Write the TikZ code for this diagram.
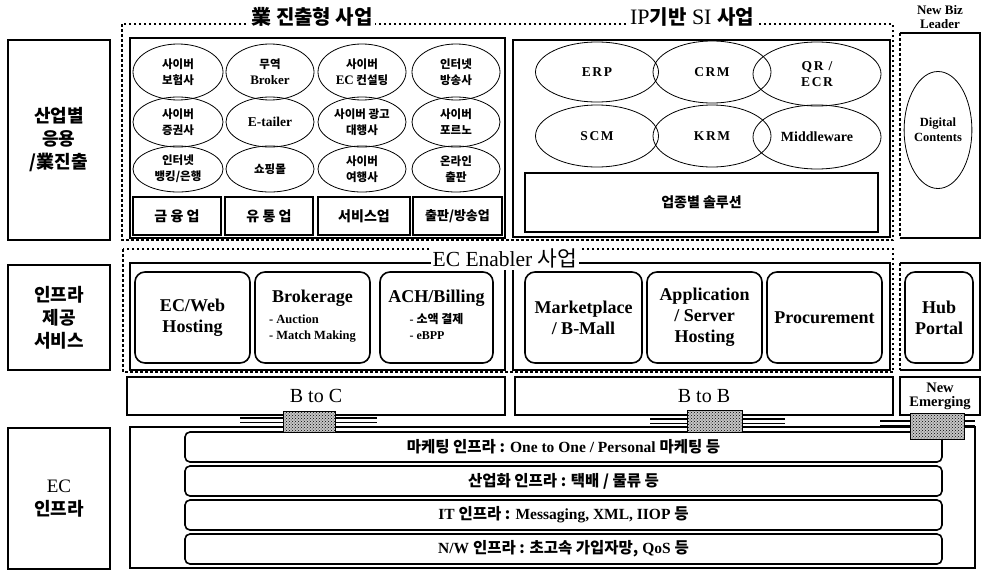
\documentclass[tikz,border=0pt]{standalone}
\usepackage{fontspec}
\setmainfont{Liberation Serif}
\newfontfamily\kr{Noto Sans CJK KR}
\usetikzlibrary{shapes.geometric,patterns}
\begin{document}
\begin{tikzpicture}[x=1pt,y=-1pt,
  lab/.style={draw, line width=2pt, minimum width=102pt, align=center, inner sep=0pt,
              font=\kr\bfseries\fontsize{18}{23}\selectfont},
  dotline/.style={line width=2.4pt, dash pattern=on 2.5pt off 2.5pt},
  inbox/.style={draw, line width=2pt},
  ttl/.style={fill=white, inner sep=2pt},
  ell/.style={draw, ellipse, line width=0.8pt, inner sep=0pt, align=center,
              font=\kr\bfseries\fontsize{11.5}{16}\selectfont},
  ellip/.style={draw, ellipse, line width=0.8pt, inner sep=0pt, align=center,
              font=\bfseries\fontsize{13.5}{16}\selectfont\addfontfeature{LetterSpace=12}},
  sbox/.style={draw, line width=2pt, inner sep=0pt, align=center,
              font=\kr\bfseries\fontsize{14}{16}\selectfont},
  rbox/.style={draw, line width=1.6pt, rounded corners=10pt, inner sep=0pt, align=center,
              minimum height=91pt, font=\bfseries\fontsize{18}{21}\selectfont},
  wide/.style={draw, line width=1.8pt, inner sep=0pt, minimum height=38pt, align=center,
              font=\fontsize{20}{20}\selectfont},
  bar/.style={draw, line width=1.6pt, rounded corners=5pt, minimum width=757pt,
              minimum height=30pt, inner sep=0pt, font=\bfseries\fontsize{15.5}{16}\selectfont},
  icon/.style={draw, line width=1pt, preaction={fill=gray!45}, pattern=crosshatch dots, inner sep=0pt}
]
\useasboundingbox (0,0) rectangle (982,570);

% ---------- left labels ----------
\node[lab, minimum height=200pt] (l1) at (59,140) {산업별\\응용\\/業진출};
\node[lab, minimum height=105pt] (l2) at (59,317.5) {인프라\\제공\\서비스};
\node[lab, minimum height=141pt] (l3) at (59,498.5) {{\normalfont\mdseries\fontsize{19}{20}\selectfont EC}\\인프라};

% ---------- upper dotted frame ----------
\draw[dotline] (122,24) rectangle (893,240);
\node[ttl, font=\kr\bfseries\fontsize{20}{22}\selectfont] (t1) at (312,17) {業 진출형 사업};
\node[ttl, font=\fontsize{22}{22}\selectfont] (t2) at (692,17) {IP{\kr\bfseries\fontsize{20}{22}\selectfont 기반} SI {\kr\bfseries\fontsize{20}{22}\selectfont 사업}};

% 業 inner box
\draw[inbox] (130,38) rectangle (505,238);
% IP inner box
\draw[inbox] (513,40) rectangle (890,237);

% ellipses 業
\node[ell, minimum width=90pt, minimum height=56pt] (e11) at (178,72) {사이버\\보험사};
\node[ell, minimum width=88pt, minimum height=56pt] (e12) at (270,72) {무역\\{\rmfamily\fontsize{13}{15}\selectfont Broker}};
\node[ell, minimum width=88pt, minimum height=56pt] (e13) at (362,72) {사이버\\{\rmfamily\fontsize{13}{15}\selectfont EC} 컨설팅};
\node[ell, minimum width=88pt, minimum height=56pt] (e14) at (456,72) {인터넷\\방송사};
\node[ell, minimum width=90pt, minimum height=50pt] (e21) at (178,122) {사이버\\증권사};
\node[ell, minimum width=88pt, minimum height=50pt] (e22) at (270,122) {{\rmfamily\fontsize{13.5}{15}\selectfont E-tailer}};
\node[ell, minimum width=88pt, minimum height=50pt] (e23) at (362,122) {사이버 광고\\대행사};
\node[ell, minimum width=88pt, minimum height=50pt] (e24) at (456,122) {사이버\\포르노};
\node[ell, minimum width=90pt, minimum height=46pt] (e31) at (178,169) {인터넷\\뱅킹/은행};
\node[ell, minimum width=88pt, minimum height=46pt] (e32) at (270,169) {쇼핑몰};
\node[ell, minimum width=88pt, minimum height=46pt] (e33) at (362,169) {사이버\\여행사};
\node[ell, minimum width=88pt, minimum height=46pt] (e34) at (456,169) {온라인\\출판};

% industry boxes
\node[sbox, minimum width=88pt, minimum height=38pt] (b1) at (177,216) {금 융 업};
\node[sbox, minimum width=88pt, minimum height=38pt] (b2) at (269,216) {유 통 업};
\node[sbox, minimum width=92pt, minimum height=38pt] (b3) at (364,216) {서비스업};
\node[sbox, minimum width=89pt, minimum height=38pt, font=\kr\bfseries\fontsize{13}{16}\selectfont] (b4) at (457.5,216) {출판/방송업};

% IP ellipses
\node[ellip, minimum width=123pt, minimum height=60pt] (p1) at (597,72) {ERP};
\node[ellip, minimum width=118pt, minimum height=62pt] (p2) at (712,72) {CRM};
\node[ellip, minimum width=128pt, minimum height=64pt] (p3) at (817,74) {QR /\\ECR};
\node[ellip, minimum width=123pt, minimum height=62pt] (p4) at (597,136) {SCM};
\node[ellip, minimum width=118pt, minimum height=62pt] (p5) at (712,136) {KRM};
\node[ellip, minimum width=128pt, minimum height=64pt, font=\bfseries\fontsize{14}{16}\selectfont] (p6) at (817,137) {Middleware};
\node[sbox, minimum width=353pt, minimum height=59pt] (sol) at (701.5,202.5) {업종별 솔루션};

% New Biz column (top)
\node[font=\bfseries\fontsize{13}{14}\selectfont, align=center, inner sep=0pt] (nbl) at (940,17) {New Biz\\Leader};
\draw[line width=2pt] (900,33) -- (980,33) -- (980,238) -- (900,238);
\draw[dotline] (900,33) -- (900,238);
\node[draw, ellipse, line width=0.8pt, minimum width=62pt, minimum height=117pt, inner sep=0pt,
      align=center, font=\bfseries\fontsize{12.5}{15}\selectfont] (dc) at (938,130) {Digital\\Contents};

% ---------- EC Enabler frame ----------
\draw[dotline] (123,249) rectangle (893,372);
\draw[inbox] (130,263) rectangle (505,370);
\draw[inbox] (513,263) rectangle (890,370);
\node[ttl, font=\fontsize{21.5}{22}\selectfont] (t3) at (505,258) {EC Enabler {\kr 사업}};

\node[rbox, minimum width=115pt] (r1) at (192.5,317.5) {EC/Web\\Hosting};
\node[rbox, minimum width=115pt] (r2) at (312.5,317.5) {Brokerage\\[5pt]
  {\fontsize{12.5}{16}\selectfont\begin{tabular}{@{}l@{}}- Auction\\- Match Making\end{tabular}}};
\node[rbox, minimum width=113pt] (r3) at (436.5,317.5) {ACH/Billing\\[5pt]
  {\fontsize{12}{16}\selectfont\begin{tabular}{@{}l@{}}- {\kr 소액 결제}\\- eBPP\end{tabular}}};
\node[rbox, minimum width=117pt] (r4) at (583.5,317.5) {Marketplace\\/ B-Mall};
\node[rbox, minimum width=115pt] (r5) at (704.5,317.5) {Application\\/ Server\\Hosting};
\node[rbox, minimum width=115pt] (r6) at (824.5,317.5) {Procurement};

\draw[line width=2pt] (900,263) -- (980,263) -- (980,370) -- (900,370);
\draw[dotline] (900,263) -- (900,370);
\node[rbox, minimum width=68pt] (r7) at (939,317.5) {Hub\\Portal};

% ---------- B to C / B to B ----------
\node[wide, minimum width=378pt] (btc) at (316,396) {B to C};
\node[wide, minimum width=378pt] (btb) at (704,396) {B to B};
\node[wide, minimum width=80pt, font=\bfseries\fontsize{14.5}{14}\selectfont] (ne) at (940,396) {New\\Emerging};

% ---------- EC infra ----------
\draw[line width=1.8pt] (130,427) rectangle (975,568);
\node[bar] (m1) at (563.5,447) {{\kr 마케팅 인프라 :} One to One / Personal {\kr 마케팅 등}};
\node[bar] (m2) at (563.5,481) {{\kr 산업화 인프라 : 택배 / 물류 등}};
\node[bar] (m3) at (563.5,515) {IT {\kr 인프라 :} Messaging, XML, IIOP {\kr 등}};
\node[bar] (m4) at (563.5,549) {N/W {\kr 인프라 : 초고속 가입자망,} QoS {\kr 등}};

% small linking icons
\coordinate (a1) at (240,420); \coordinate (a2) at (377,420);
\coordinate (b1l) at (650,421); \coordinate (b2l) at (785,421);
\coordinate (c1) at (880,423); \coordinate (c2) at (975,423);
\draw[line width=1.6pt, double distance=3pt] (a1) -- (a2);
\draw[line width=1.6pt, double distance=3pt] (b1l) -- (b2l);
\draw[line width=1.6pt, double distance=3pt] (c1) -- (c2);
\node[icon, minimum width=52pt, minimum height=21pt] (i1) at (309,421.5) {};
\node[icon, minimum width=55pt, minimum height=22pt] (i2) at (714.5,421) {};
\node[icon, minimum width=54pt, minimum height=26pt] (i3) at (937,426) {};
\end{tikzpicture}
\end{document}
